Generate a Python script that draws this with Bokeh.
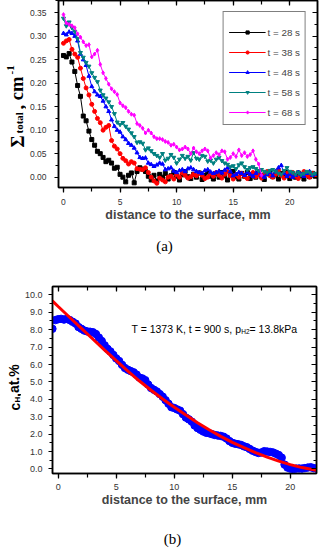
from bokeh.plotting import figure
from bokeh.models import (Range1d, LinearAxis, Label, SingleIntervalTicker,
                          PrintfTickFormatter)
from bokeh.layouts import column, row
from bokeh.embed import file_html
from bokeh.resources import INLINE

# ---------------- panel (a) data ----------------
DIST_A = [0.0, 0.25, 0.5, 0.75, 1.0, 1.25, 1.5, 1.75, 2.0, 2.25, 2.5, 2.75, 3.0, 3.25,
          3.5, 3.75, 4.0, 4.25, 4.5, 4.75, 5.0, 5.25, 5.5, 5.75, 6.0, 6.25, 6.5, 6.75,
          7.0, 7.25, 7.5, 7.75, 8.0, 8.25, 8.5, 8.75, 9.0, 9.25, 9.5, 9.75, 10.0, 10.25,
          10.5, 10.75, 11.0, 11.25, 11.5, 11.75, 12.0, 12.25, 12.5, 12.75, 13.0, 13.25,
          13.5, 13.75, 14.0, 14.25, 14.5, 14.75, 15.0, 15.25, 15.5, 15.75, 16.0, 16.25,
          16.5, 16.75, 17.0, 17.25, 17.5, 17.75, 18.0, 18.25, 18.5, 18.75, 19.0, 19.25,
          19.5, 19.75, 20.0, 20.25, 20.5, 20.75, 21.0, 21.25, 21.5, 21.75, 22.0, 22.25]

SIGMA_28S = [0.259, 0.256, 0.263, 0.245, 0.225, 0.195, 0.172, 0.130, 0.120, 0.098,
             0.080, 0.068, 0.055, 0.050, 0.042, 0.033, 0.036, 0.030, 0.019, 0.021,
             0.006, 0.000, -0.010, 0.004, 0.009, -0.012, 0.012, 0.020, 0.017, 0.012,
             0.002, -0.006, 0.004, -0.008, 0.006, 0.000, 0.008, -0.004, 0.003, 0.010,
             0.002, -0.006, 0.005, 0.012, 0.001, -0.003, 0.006, 0.000, 0.009, -0.005,
             0.004, 0.011, 0.002, -0.004, 0.007, 0.000, 0.010, 0.003, -0.006, 0.005,
             0.012, 0.001, -0.004, 0.008, 0.002, 0.010, -0.003, 0.006, 0.000, 0.009,
             0.003, -0.005, 0.007, 0.012, 0.001, 0.005, -0.004, 0.008, 0.002, 0.010,
             -0.003, 0.006, 0.000, 0.009, 0.003, -0.004, 0.007, 0.001, 0.008, 0.002]

SIGMA_38S = [0.285, 0.290, 0.293, 0.272, 0.262, 0.255, 0.232, 0.210, 0.190, 0.175,
             0.155, 0.140, 0.125, 0.116, 0.100, 0.106, 0.110, 0.078, 0.066, 0.060,
             0.050, 0.040, 0.035, 0.028, 0.033, 0.030, 0.018, 0.017, 0.016, 0.020,
             0.010, 0.000, -0.008, -0.013, -0.002, -0.006, -0.010, 0.000, 0.002, -0.004,
             0.005, 0.000, 0.009, 0.004, -0.002, 0.001, 0.006, 0.003, 0.009, 0.004,
             -0.003, 0.000, 0.007, 0.002, 0.010, 0.004, -0.002, 0.006, 0.012, 0.003,
             -0.004, 0.005, 0.000, 0.008, 0.002, -0.003, 0.006, 0.010, 0.001, 0.005,
             -0.002, 0.007, 0.012, 0.003, 0.000, 0.006, 0.015, 0.004, -0.002, 0.008,
             0.003, 0.010, 0.002, -0.003, 0.006, 0.012, 0.004, 0.000, 0.008, 0.003]

SIGMA_48S = [0.306, 0.303, 0.309, 0.306, 0.300, 0.290, 0.262, 0.250, 0.238, 0.215,
             0.193, 0.182, 0.175, 0.172, 0.162, 0.150, 0.140, 0.122, 0.108, 0.100,
             0.096, 0.086, 0.080, 0.072, 0.068, 0.062, 0.052, 0.042, 0.040, 0.041,
             0.030, 0.027, 0.023, 0.026, 0.030, 0.028, 0.016, 0.018, 0.020, 0.013,
             0.010, 0.014, 0.016, 0.012, 0.018, 0.020, 0.016, 0.012, 0.010, 0.008,
             0.014, 0.016, 0.011, 0.008, 0.010, 0.013, 0.009, 0.015, 0.020, 0.012,
             0.003, 0.006, 0.010, 0.008, 0.004, 0.010, 0.006, 0.002, 0.008, 0.012,
             0.004, 0.000, 0.006, 0.010, 0.003, 0.012, 0.020, 0.025, 0.008, 0.002,
             0.006, 0.000, 0.004, 0.010, 0.006, 0.002, 0.008, 0.012, 0.004, 0.006]

SIGMA_58S = [0.338, 0.322, 0.330, 0.318, 0.310, 0.295, 0.265, 0.255, 0.244, 0.236,
             0.222, 0.212, 0.203, 0.185, 0.175, 0.168, 0.160, 0.150, 0.135, 0.117,
             0.112, 0.116, 0.108, 0.102, 0.094, 0.086, 0.074, 0.075, 0.072, 0.058,
             0.062, 0.056, 0.050, 0.046, 0.042, 0.050, 0.036, 0.040, 0.048, 0.042,
             0.030, 0.038, 0.046, 0.040, 0.044, 0.036, 0.052, 0.040, 0.038, 0.046,
             0.044, 0.034, 0.036, 0.030, 0.038, 0.042, 0.035, 0.030, 0.027, 0.022,
             0.024, 0.018, 0.026, 0.030, 0.022, 0.016, 0.020, 0.022, 0.018, 0.014,
             0.016, 0.012, 0.010, 0.014, 0.016, 0.012, 0.008, 0.006, 0.014, 0.020,
             0.012, 0.010, 0.006, 0.010, 0.005, 0.008, 0.012, 0.010, 0.006, 0.008]

SIGMA_68S = [0.346, 0.328, 0.325, 0.322, 0.318, 0.305, 0.298, 0.288, 0.280, 0.282,
             0.256, 0.262, 0.270, 0.240, 0.222, 0.210, 0.198, 0.188, 0.182, 0.176,
             0.158, 0.152, 0.148, 0.140, 0.134, 0.132, 0.114, 0.110, 0.104, 0.094,
             0.100, 0.094, 0.086, 0.082, 0.082, 0.080, 0.076, 0.074, 0.068, 0.070,
             0.064, 0.058, 0.060, 0.064, 0.060, 0.050, 0.062, 0.054, 0.050, 0.056,
             0.060, 0.056, 0.041, 0.046, 0.052, 0.048, 0.056, 0.054, 0.038, 0.042,
             0.050, 0.044, 0.058, 0.046, 0.052, 0.044, 0.048, 0.056, 0.038, 0.028,
             0.004]

SERIES_LABELS = ["t = 28 s", "t = 38 s", "t = 48 s", "t = 58 s", "t = 68 s"]
SERIES_VALUES = [SIGMA_28S, SIGMA_38S, SIGMA_48S, SIGMA_58S, SIGMA_68S]
SERIES_COLORS = ["black", "#ff0000", "#0000ff", "#008080", "#ff00ff"]
SERIES_MARKERS = ["square", "circle", "triangle", "inverted_triangle", "diamond"]

# ---------------- panel (b) data ----------------
DIST_B = [-0.5, -0.25, 0.0, 0.25, 0.5, 0.75, 1.0, 1.25, 1.5, 1.75, 2.0, 2.25, 2.5, 2.75,
          3.0, 3.25, 3.5, 3.75, 4.0, 4.25, 4.5, 4.75, 5.0, 5.25, 5.5, 5.75, 6.0, 6.25,
          6.5, 6.75, 7.0, 7.25, 7.5, 7.75, 8.0, 8.25, 8.5, 8.75, 9.0, 9.25, 9.5, 9.75,
          10.0, 10.25, 10.5, 10.75, 11.0, 11.25, 11.5, 11.75, 12.0, 12.25, 12.5, 12.75,
          13.0, 13.25, 13.5, 13.75, 14.0, 14.25, 14.5, 14.75, 15.0, 15.25, 15.5, 15.75,
          16.0, 16.25, 16.5, 16.75, 17.0, 17.25, 17.5, 17.75, 18.0, 18.25, 18.5, 18.75,
          19.0, 19.25, 19.5, 19.75, 20.0, 20.25, 20.5, 20.75, 21.0, 21.25, 21.5, 21.75,
          22.0, 22.25]
CH_MEASURED = [8.05, 8.55, 8.60, 8.62, 8.58, 8.62, 8.55, 8.45, 8.35, 8.15, 8.05, 7.95,
               7.90, 7.88, 7.85, 7.75, 7.55, 7.35, 7.10, 6.90, 6.75, 6.55, 6.35, 6.20,
               5.98, 5.80, 5.70, 5.62, 5.55, 5.42, 5.25, 5.20, 5.10, 4.85, 4.65, 4.55,
               4.45, 4.30, 4.15, 3.95, 3.75, 3.55, 3.50, 3.42, 3.35, 3.15, 2.95, 2.85,
               2.72, 2.50, 2.35, 2.25, 2.15, 2.08, 2.05, 2.00, 1.95, 1.92, 1.90, 1.85,
               1.75, 1.60, 1.50, 1.45, 1.42, 1.38, 1.30, 1.25, 1.15, 1.05, 0.98, 0.92,
               0.95, 1.02, 1.00, 0.98, 0.95, 0.88, 0.80, 0.65, 0.25, 0.08, 0.02, 0.00,
               0.02, 0.03, 0.02, 0.05, 0.08, 0.10, 0.05, 0.02]

DIST_FIT = [-0.5, 0, 1, 2, 3, 4, 5, 6, 7, 8, 9, 10, 11, 12, 13, 14, 15, 16, 17, 18,
            19, 20, 21, 22, 22.4]
CH_FIT = [9.65, 9.33, 8.70, 8.08, 7.45, 6.83, 6.22, 5.62, 5.05, 4.52, 4.02, 3.55,
          3.10, 2.66, 2.25, 1.87, 1.53, 1.22, 0.94, 0.68, 0.45, 0.25, 0.08, -0.05, -0.10]

SANS = "Liberation Sans"
SERIF = "Liberation Serif"
ANG = 1.5708


def style_axis(ax, size, out_major, out_minor, in_major, in_minor, standoff, labels=True):
    ax.axis_line_width = 1.5
    ax.axis_line_color = "black"
    ax.major_tick_line_width = 1.2
    ax.minor_tick_line_width = 1.2
    ax.major_tick_out = out_major
    ax.minor_tick_out = out_minor
    ax.major_tick_in = in_major
    ax.minor_tick_in = in_minor
    ax.major_label_standoff = standoff
    if labels:
        ax.major_label_text_font = SANS
        ax.major_label_text_font_size = size
        ax.major_label_text_color = "#333333"
    else:
        ax.major_label_text_font_size = "0px"
        ax.major_label_text_color = None


def make_frame(width, height, xr, yr, xint, yint, yfmt, lab_size, borders,
               xstand, ystand):
    p = figure(width=width, height=height, x_range=xr, y_range=yr,
               output_backend="svg", toolbar_location=None,
               min_border_left=borders[0], min_border_right=borders[1],
               min_border_top=borders[2], min_border_bottom=borders[3])
    xax = p.xaxis[0]
    yax = p.yaxis[0]
    p.xgrid.visible = False
    p.ygrid.visible = False
    p.outline_line_color = "black"
    p.outline_line_width = 1.5
    xax.ticker = SingleIntervalTicker(interval=xint, num_minor_ticks=2)
    yax.ticker = SingleIntervalTicker(interval=yint, num_minor_ticks=2)
    yax.formatter = PrintfTickFormatter(format=yfmt)
    style_axis(xax, lab_size, 5, 4, 0, 0, xstand)
    style_axis(yax, lab_size, 4, 3, 0, 0, ystand)
    xax.axis_label = "distance to the surface, mm"
    xax.axis_label_text_font = SANS
    xax.axis_label_text_font_style = "bold"
    xax.axis_label_text_font_size = "12.5px"
    xax.axis_label_standoff = 0
    top = LinearAxis(ticker=SingleIntervalTicker(interval=xint, num_minor_ticks=2))
    style_axis(top, lab_size, 0, 0, 5, 4, 0, labels=False)
    p.add_layout(top, "above")
    right = LinearAxis(ticker=SingleIntervalTicker(interval=yint, num_minor_ticks=2))
    style_axis(right, lab_size, 0, 0, 5, 3, 0, labels=False)
    p.add_layout(right, "right")
    return p


def side_figure(width, height, yr):
    s = figure(width=width, height=height, x_range=Range1d(0, width),
               y_range=yr, x_axis_type=None, y_axis_type=None,
               output_backend="svg", toolbar_location=None, min_border=0,
               min_border_left=0, min_border_right=0, min_border_top=0,
               min_border_bottom=0)
    s.outline_line_color = None
    s.grid.visible = False
    return s


def add_text(p, text, xa, ya, dx, dy, font, size, style="normal", angle=0.0,
             align="left", baseline="alphabetic"):
    p.add_layout(Label(x=xa, y=ya, x_offset=dx, y_offset=dy, text=text,
                       text_font=font, text_font_size=size, text_font_style=style,
                       angle=angle, text_align=align, text_baseline=baseline,
                       text_color="black"))


# ---------------- panel (a) ----------------
xa0, xa1, ya0, ya1 = -0.44, 22.45, -0.022, 0.376
pa = make_frame(299, 232, Range1d(xa0, xa1), Range1d(ya0, ya1), 5, 0.05, "%.2f",
                "8.5px", (29, 8, 0, 45), 6, 8)

for vals, col, mk, lab in zip(SERIES_VALUES, SERIES_COLORS, SERIES_MARKERS, SERIES_LABELS):
    xs = DIST_A[:len(vals)]
    pa.line(xs, vals, line_color=col, line_width=1, legend_label=lab)
    pa.scatter(xs, vals, marker=mk, size=4, fill_color=col, line_color=col,
               legend_label=lab)

lg = pa.legend[0]
lg.location = "top_right"
lg.margin = 11
lg.border_line_color = "black"
lg.border_line_width = 1
lg.background_fill_alpha = 1.0
lg.label_text_font = SANS
lg.label_text_font_size = "9.8px"
lg.glyph_width = 37
lg.glyph_height = 8
lg.label_height = 14
lg.label_width = 10
lg.spacing = 6
lg.padding = 5
lg.label_standoff = 2
lg.title = " "
lg.title_text_font_size = "6px"
lg.title_standoff = 2

# side strip whose frame is aligned with the frame of panel (a)
la = side_figure(26, 232, Range1d(ya0, ya1))
add_text(la, "\u03a3", 17, ya0, 0, 40, SERIF, "18.5px", "bold", ANG)
add_text(la, "total", 18.8, ya0, 0, 54, SERIF, "11px", "bold", ANG)
add_text(la, ", cm", 17, ya0, 0, 78, SERIF, "18.5px", "bold", ANG)
add_text(la, "-1", 10.5, ya0, 0, 113, SERIF, "11px", "bold", ANG)

cap_a = side_figure(325, 30, Range1d(0, 30))
add_text(cap_a, "(a)", 164, 17, 0, 0, SERIF, "15px", "normal", 0.0, "center", "middle")

# ---------------- panel (b) ----------------
xb0, xb1, yb0, yb1 = -0.49, 22.25, -0.26, 10.48
pb = make_frame(304, 266, Range1d(xb0, xb1), Range1d(yb0, yb1), 5, 1.0, "%.1f",
                "9px", (30, 9, 24, 55), 5, 6)

pb.scatter(DIST_B, CH_MEASURED, marker="circle", size=7.5, fill_color="#0000ff",
           line_color="#0000ff")
pb.line(DIST_FIT, CH_FIT, line_color="#ff0000", line_width=3)

add_text(pb, "T = 1373 K, t = 900 s, p", xb0, yb1, 79, -42, SANS, "10.5px")
add_text(pb, "H2", xb0, yb1, 188.7, -45, SANS, "6.5px")
add_text(pb, " = 13.8kPa", xb0, yb1, 197, -42, SANS, "10.5px")

lb = side_figure(21, 266, Range1d(yb0, yb1))
add_text(lb, "c", 14, yb0, 0, 63, SANS, "14px", "bold", ANG)
add_text(lb, "H", 16.5, yb0, 0, 71, SANS, "8px", "bold", ANG)
add_text(lb, ",at.%", 14, yb0, 0, 76.5, SANS, "14px", "bold", ANG)

cap_b = side_figure(325, 22, Range1d(0, 22))
add_text(cap_b, "(b)", 172, 12, 0, 0, SERIF, "15px", "normal", 0.0, "center", "middle")

layout = column(row(la, pa), cap_a, row(lb, pb), cap_b)
open("out.html", "w").write(file_html(layout, INLINE))
